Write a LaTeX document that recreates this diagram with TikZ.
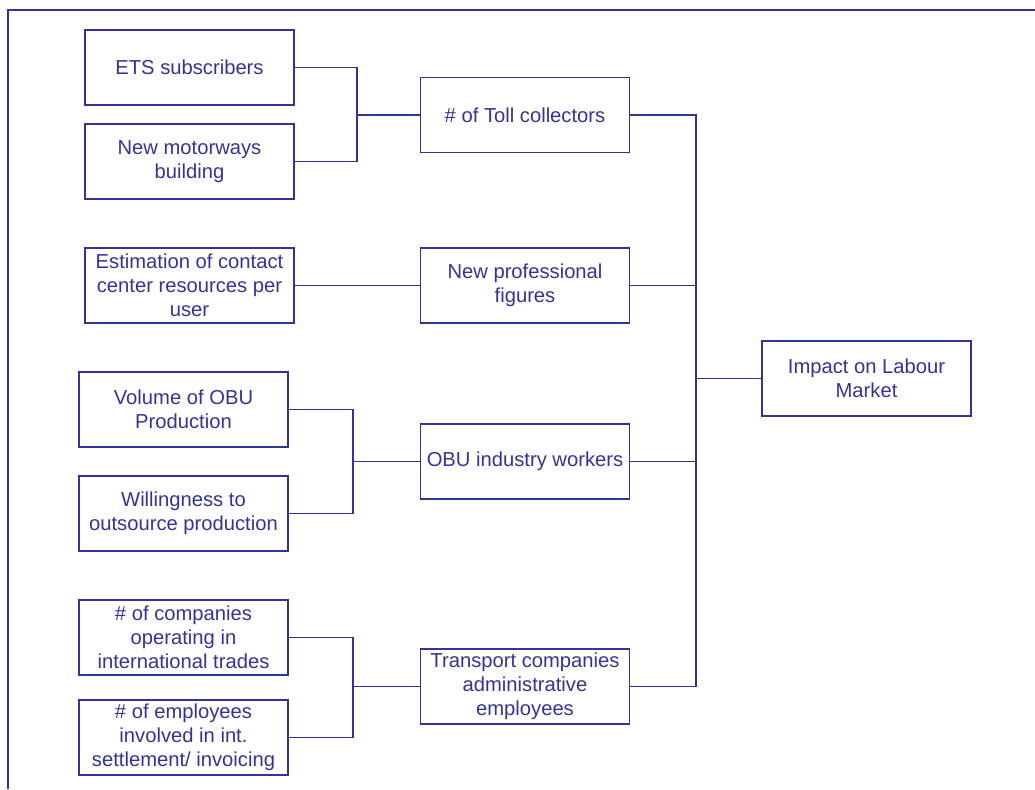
\documentclass[tikz,border=0pt]{standalone}
\usepackage{fontspec}
\setmainfont{Liberation Sans}
\definecolor{inkblue}{HTML}{333399}

\tikzset{
    factor/.style={draw=inkblue, line width=1.1pt, text=inkblue, align=center,
        minimum width=4.18cm, minimum height=1.5cm, inner sep=1pt,
        font=\fontsize{11.5}{13.8}\selectfont},
    link/.style={draw=inkblue, line width=1pt}
}

\begin{document}
\begin{tikzpicture}[x=0.02cm, y=-0.02cm]
    \useasboundingbox (0,0) rectangle (1035,789);
    \draw[link] (8,789) -- (8,10) -- (1035,10);

    % drivers
    \node[factor] (ets) at (189.5,67.5) {ETS subscribers};
    \node[factor] (motorways) at (189.5,161.5) {New motorways\\building};
    \node[factor] (contact) at (189.5,285.5) {Estimation of contact\\center resources per\\user};
    \node[factor] (volume) at (183.5,409.5) {Volume of OBU\\Production};
    \node[factor] (outsource) at (183.5,513.5) {Willingness to\\outsource production};
    \node[factor] (companies) at (183.5,637.5) {\# of companies\\operating in\\international trades};
    \node[factor] (employees) at (183.5,737.5) {\# of employees\\involved in int.\\settlement/ invoicing};

    % effects
    \node[factor] (toll) at (525,115) {\# of Toll collectors};
    \node[factor] (figures) at (525,285.5) {New professional\\figures};
    \node[factor] (obu) at (525,461.5) {OBU industry workers};
    \node[factor] (transport) at (525,686.5) {Transport companies\\administrative\\employees};
    \node[factor] (impact) at (866.5,378.5) {Impact on Labour\\Market};

    % joints
    \coordinate (jtoll) at (357,115);
    \coordinate (jobu) at (353,461.5);
    \coordinate (jtransport) at (353,686.5);
    \coordinate (jimpact) at (696,378.5);

    \draw[link] (ets.east) -| (jtoll) -- (toll.west);
    \draw[link] (motorways.east) -| (jtoll);
    \draw[link] (contact.east) -- (figures.west);
    \draw[link] (volume.east) -| (jobu) -- (obu.west);
    \draw[link] (outsource.east) -| (jobu);
    \draw[link] (companies.east) -| (jtransport) -- (transport.west);
    \draw[link] (employees.east) -| (jtransport);

    \draw[link] (toll.east) -| (jimpact) -- (impact.west);
    \draw[link] (figures.east) -| (jimpact);
    \draw[link] (obu.east) -| (jimpact);
    \draw[link] (transport.east) -| (jimpact);
\end{tikzpicture}
\end{document}
